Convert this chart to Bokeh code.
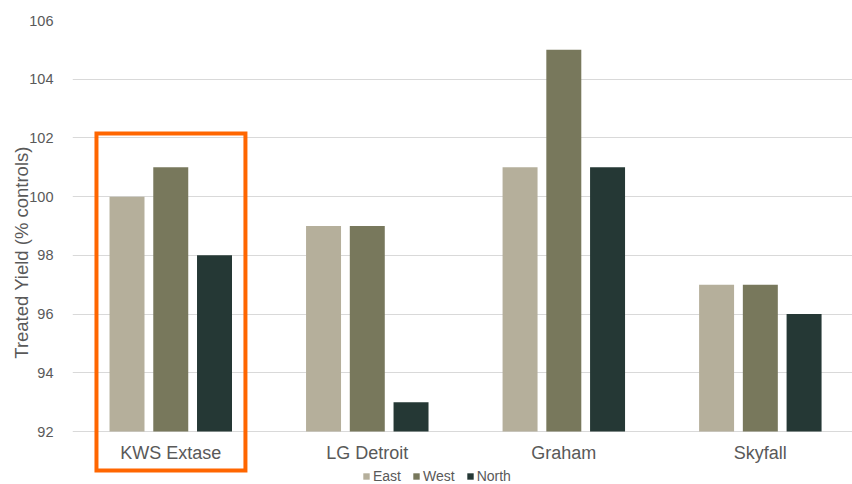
from bokeh.plotting import figure
from bokeh.models import Range1d, FixedTicker, BoxAnnotation, Legend, LegendItem, ColumnDataSource
from bokeh.core.properties import value
from bokeh.embed import file_html
from bokeh.resources import INLINE

categories = ["KWS Extase", "LG Detroit", "Graham", "Skyfall"]
series = ["East", "West", "North"]
east = [100, 99, 101, 97]
west = [101, 99, 105, 97]
north = [98, 93, 101, 96]
y_ticks = [92, 94, 96, 98, 100, 102, 104, 106]
colors = ["#b5af9b", "#78785c", "#253835"]
highlight = "KWS Extase"

FONT = "Liberation Sans"
GREY = "#595959"

# frame extends below the value 92 baseline so labels/legend/highlight can sit there
p = figure(width=852, height=484, output_backend="svg", toolbar_location=None,
           x_range=Range1d(0, 3.969), y_range=Range1d(90.195, 106),
           min_border_left=72, min_border_right=0, min_border_top=20, min_border_bottom=0)
p.title.visible = False
p.outline_line_color = None
p.background_fill_color = "white"
p.xaxis.visible = False

offsets = [-0.2226, 0.0, 0.2226]
bar_w = 0.178
renderers = []
for i, (name, vals) in enumerate(zip(series, [east, west, north])):
    src = ColumnDataSource(dict(x=[j + 0.5 + offsets[i] for j in range(len(categories))],
                                top=vals, cat=categories))
    r = p.vbar(x="x", top="top", bottom=y_ticks[0], width=bar_w, source=src,
               fill_color=colors[i], line_color=None)
    renderers.append((name, r))

# category labels under the baseline
lab_src = ColumnDataSource(dict(x=[j + 0.5 for j in range(len(categories))],
                                y=[y_ticks[0]] * len(categories), text=categories))
p.text(x="x", y="y", text="text", source=lab_src, y_offset=21,
       text_align="center", text_baseline="middle",
       text_font=value(FONT), text_font_size="18px", text_color=GREY)

p.yaxis.ticker = FixedTicker(ticks=y_ticks)
p.yaxis.axis_line_color = None
p.yaxis.major_tick_line_color = None
p.yaxis.minor_tick_line_color = None
p.yaxis.major_label_text_font = FONT
p.yaxis.major_label_text_font_size = "14.5px"
p.yaxis.major_label_text_color = GREY
p.yaxis.major_label_standoff = 13
p.yaxis.axis_label = "Treated Yield (% controls)"
p.yaxis.axis_label_text_font = FONT
p.yaxis.axis_label_text_font_size = "18.5px"
p.yaxis.axis_label_text_font_style = "normal"
p.yaxis.axis_label_text_color = GREY
p.yaxis.axis_label_standoff = -6

p.xgrid.grid_line_color = None
p.ygrid.ticker = FixedTicker(ticks=y_ticks)
p.ygrid.grid_line_color = "#d9d9d9"
p.ygrid.grid_line_width = 1

# highlight box around one group
hi = categories.index(highlight)
box = BoxAnnotation(left=hi + 0.122, right=hi + 0.880, bottom=90.67, top=102.15,
                    fill_color=None, fill_alpha=0, line_color="#ff6600",
                    line_alpha=1.0, line_width=4, line_join="miter")
p.add_layout(box)

legend = Legend(items=[LegendItem(label=n, renderers=[r]) for n, r in renderers],
                orientation="horizontal", location=(290, 0),
                padding=0, margin=0, spacing=11, label_standoff=3,
                glyph_width=8, glyph_height=8, label_height=14,
                label_text_font=FONT, label_text_font_size="14px",
                label_text_color=GREY, border_line_color=None,
                background_fill_alpha=0)
p.add_layout(legend, "center")

open("out.html", "w").write(file_html(p, INLINE))
